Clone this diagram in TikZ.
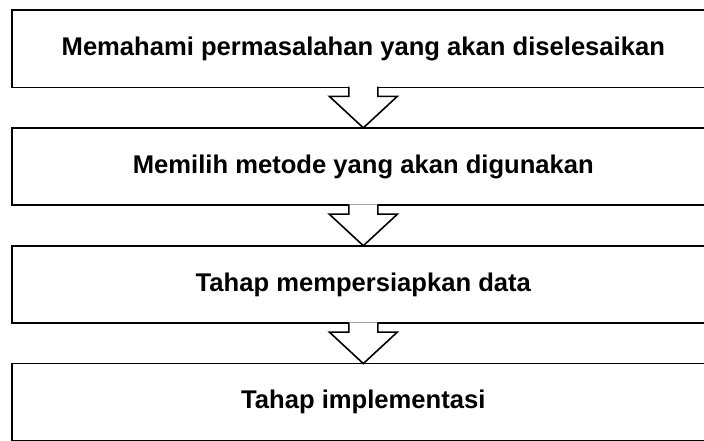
\documentclass[tikz,border=0pt]{standalone}
\usepackage{fontspec}
\setmainfont{Liberation Sans}
\usepackage{tikz}
\usetikzlibrary{positioning}
\tikzset{
stage/.style={draw,line width=1.2pt,outer sep=0pt,minimum height=58pt,minimum width=527pt,align=center,font=\bfseries\fontsize{19.2}{23}\selectfont},
hollowarrow/.style={draw,fill=white,line width=1.2pt,line join=miter}
}
\begin{document}
\begin{tikzpicture}[node distance=30.4pt]
\clip (0,0) rectangle (528pt,-330.75pt);
\node[stage,anchor=north west] (s1) at (9pt,-7.5pt) {Memahami permasalahan yang akan diselesaikan};
\node[stage,below=of s1] (s2) {Memilih metode yang akan digunakan};
\node[stage,below=of s2] (s3) {Tahap mempersiapkan data};
\node[stage,below=of s3] (s4) {Tahap implementasi};
% hollow arrows between the stages
\draw[hollowarrow] ([xshift=-10.9pt,yshift=.6pt]s1.south) -- ++(0,-7.35pt) -- ++(-14.6pt,0) -- (s2.north) -- ([xshift=25.5pt,yshift=-6.75pt]s1.south) -- ++(-14.6pt,0) -- ([xshift=10.9pt,yshift=.6pt]s1.south);
\draw[hollowarrow] ([xshift=-10.9pt,yshift=.6pt]s2.south) -- ++(0,-7.35pt) -- ++(-14.6pt,0) -- (s3.north) -- ([xshift=25.5pt,yshift=-6.75pt]s2.south) -- ++(-14.6pt,0) -- ([xshift=10.9pt,yshift=.6pt]s2.south);
\draw[hollowarrow] ([xshift=-10.9pt,yshift=.6pt]s3.south) -- ++(0,-7.35pt) -- ++(-14.6pt,0) -- (s4.north) -- ([xshift=25.5pt,yshift=-6.75pt]s3.south) -- ++(-14.6pt,0) -- ([xshift=10.9pt,yshift=.6pt]s3.south);
\end{tikzpicture}
\end{document}
